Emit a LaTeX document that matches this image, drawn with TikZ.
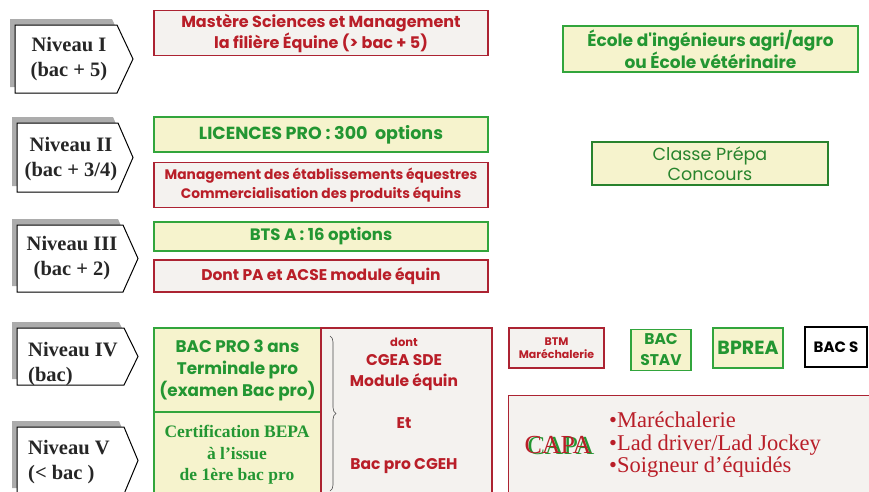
\documentclass[tikz,border=0pt]{standalone}
\usepackage{fontspec}
\setmainfont{Liberation Serif}
\newfontfamily\goth{Poppins}
\usetikzlibrary{decorations.pathreplacing}
\definecolor{rborder}{RGB}{172,35,50}
\definecolor{rtext}{RGB}{185,30,40}
\definecolor{gborder}{RGB}{50,165,60}
\definecolor{gdark}{RGB}{40,130,45}
\definecolor{gtext}{RGB}{35,150,50}
\definecolor{yfill}{RGB}{246,243,205}
\definecolor{wfill}{RGB}{244,242,239}
\tikzset{
  box/.style={line width=1.6pt, inner sep=0pt, align=center},
  redbox/.style={box, draw=rborder, fill=wfill, text=rtext},
  greenbox/.style={box, draw=gborder, fill=yfill, text=gtext},
  lvl/.style={draw=black, line width=1pt, fill=white},
  lvlshadow/.style={fill=gray!65},
  lvltext/.style={font=\fontsize{20.5}{25}\selectfont\bfseries, text=black!85, inner sep=0pt},
}
\begin{document}
\begin{tikzpicture}[x=1pt,y=-1pt]
\useasboundingbox (0,0) rectangle (869,491);
% ---------- level pentagons ----------
\fill[lvlshadow] (10,19) -- (112,19) -- (128,53) -- (112,87) -- (10,87) -- cycle;
\draw[lvl] (15,25) -- (117,25) -- (133,59) -- (117,93) -- (15,93) -- cycle;
\node[lvltext, align=center] (n1) at (69,59) {Niveau I\\(bac + 5)};

\fill[lvlshadow] (12,117) -- (113,117) -- (128,151) -- (113,186) -- (12,186) -- cycle;
\draw[lvl] (17,123) -- (118,123) -- (133,157.5) -- (118,192) -- (17,192) -- cycle;
\node[lvltext, align=center] (n2) at (71,159) {Niveau II\\(bac + 3/4)};

\fill[lvlshadow] (12,219) -- (118,219) -- (133,252) -- (118,286) -- (12,286) -- cycle;
\draw[lvl] (17,225) -- (123,225) -- (138,258.5) -- (123,292) -- (17,292) -- cycle;
\node[lvltext, align=center] (n3) at (72,258) {Niveau III\\(bac + 2)};

\fill[lvlshadow] (12,322) -- (119,322) -- (133,350) -- (119,379) -- (12,379) -- cycle;
\draw[lvl] (17,328) -- (124,328) -- (138,356.5) -- (124,385) -- (17,385) -- cycle;
\node[lvltext, align=left, anchor=west] (n4) at (28,364) {Niveau IV\\(bac)};

\fill[lvlshadow] (12,421) -- (119,421) -- (133,454) -- (119,488) -- (12,488) -- cycle;
\draw[lvl] (17,427) -- (124,427) -- (138,460.5) -- (124,494) -- (17,494) -- cycle;
\node[lvltext, align=left, anchor=west] (n5) at (28,462) {Niveau V\\(< bac )};

% ---------- top boxes ----------
\node[redbox, minimum width=334pt, minimum height=45pt,
      font=\goth\fontsize{16}{21}\selectfont\bfseries] (mastere) at (321,33)
  {Mastère Sciences et Management\\la filière Équine (> bac + 5)};
\node[greenbox, minimum width=295pt, minimum height=46pt,
      font=\goth\fontsize{17}{21}\selectfont\bfseries] (ecole) at (710.5,49)
  {École d'ingénieurs agri/agro\\ou École vétérinaire};
\node[greenbox, minimum width=334pt, minimum height=35pt,
      font=\goth\fontsize{17.5}{18}\selectfont\bfseries] (licence) at (321,134.5)
  {LICENCES PRO : 300~~options};
\node[greenbox, draw=gdark, text=gdark!90!gtext, minimum width=236pt, minimum height=43pt,
      font=\goth\fontsize{17.5}{19.5}\selectfont] (classe) at (710,163.5)
  {Classe Prépa\\Concours};
\node[redbox, minimum width=334pt, minimum height=45pt,
      font=\goth\fontsize{13.8}{19}\selectfont\bfseries] (mgmt) at (321,185)
  {Management des établissements équestres\\Commercialisation des produits équins};
\node[greenbox, minimum width=334pt, minimum height=29pt,
      font=\goth\fontsize{16.5}{18}\selectfont\bfseries] (bts) at (321,236.5)
  {BTS A : 16 options};
\node[redbox, minimum width=334pt, minimum height=32pt,
      font=\goth\fontsize{15.5}{18}\selectfont\bfseries] (dontpa) at (321,276)
  {Dont PA et ACSE module équin};

% ---------- level IV / V block ----------
\node[greenbox, minimum width=167pt, minimum height=84pt] (bacpro) at (237.5,370) {};
\node[greenbox, minimum width=167pt, minimum height=85pt] (bepa) at (237.5,454.5) {};
\node[redbox, minimum width=171pt, minimum height=169pt] (cgea) at (406.5,412.5) {};
\node[text=gtext, align=center, inner sep=0pt,
      font=\goth\fontsize{16.8}{22}\selectfont\bfseries] (bacprotxt) at (237.5,370) {BAC PRO 3 ans\\Terminale pro\\(examen Bac pro)};
\node[text=gtext, align=center, inner sep=0pt,
      font=\fontsize{17.5}{21.5}\selectfont\bfseries] (bepatxt) at (237,455) {Certification BEPA\\à l’issue\\de 1ère bac pro};
\draw[decorate, decoration={brace, amplitude=6pt}, black!70, line width=0.6pt]
  (330,336) -- (330,491);
\node[text=rtext, inner sep=0pt, font=\goth\fontsize{11.5}{12}\selectfont\bfseries] (donttxt) at (404,342) {dont};
\node[text=rtext, align=center, inner sep=0pt, font=\goth\fontsize{15.5}{21}\selectfont\bfseries] (cgeatxt) at (404,373) {CGEA SDE\\Module équin};
\node[text=rtext, inner sep=0pt, font=\goth\fontsize{15.5}{18}\selectfont\bfseries] (ettxt) at (404,423) {Et};
\node[text=rtext, inner sep=0pt, font=\goth\fontsize{15.5}{18}\selectfont\bfseries] (cgehtxt) at (404,466) {Bac pro CGEH};

% ---------- right small boxes ----------
\node[redbox, line width=1.3pt, minimum width=95pt, minimum height=40pt,
      font=\goth\fontsize{11}{13}\selectfont\bfseries] (btm) at (556.5,348) {BTM\\Maréchalerie};
\node[greenbox, minimum width=60pt, minimum height=41pt,
      font=\goth\fontsize{15.5}{21}\selectfont\bfseries] (stav) at (661,350) {BAC\\STAV};
\node[greenbox, minimum width=70pt, minimum height=40pt,
      font=\goth\fontsize{19}{20}\selectfont\bfseries] (bprea) at (748,348) {BPREA};
\node[box, draw=black, fill=white, minimum width=62pt, minimum height=40pt,
      font=\goth\fontsize{15}{18}\selectfont\bfseries] (bacs) at (836,347) {BAC S};

% ---------- CAPA ----------
\node[redbox, line width=1.3pt, minimum width=370pt, minimum height=100pt, anchor=north west] (capa) at (508,395) {};
\node[text=gtext, inner sep=0pt, font=\fontsize{26}{28}\selectfont] (capag) at (561,446) {CAPA};
\node[text=rtext, inner sep=0pt, font=\fontsize{26}{28}\selectfont] (capar) at (558,445) {CAPA};
\node[text=rtext, align=left, anchor=west, inner sep=0pt, font=\fontsize{22.5}{22.5}\selectfont] (capalist) at (609,445)
  {•Maréchalerie\\•Lad driver/Lad Jockey\\•Soigneur d’équidés};
\end{tikzpicture}
\end{document}
